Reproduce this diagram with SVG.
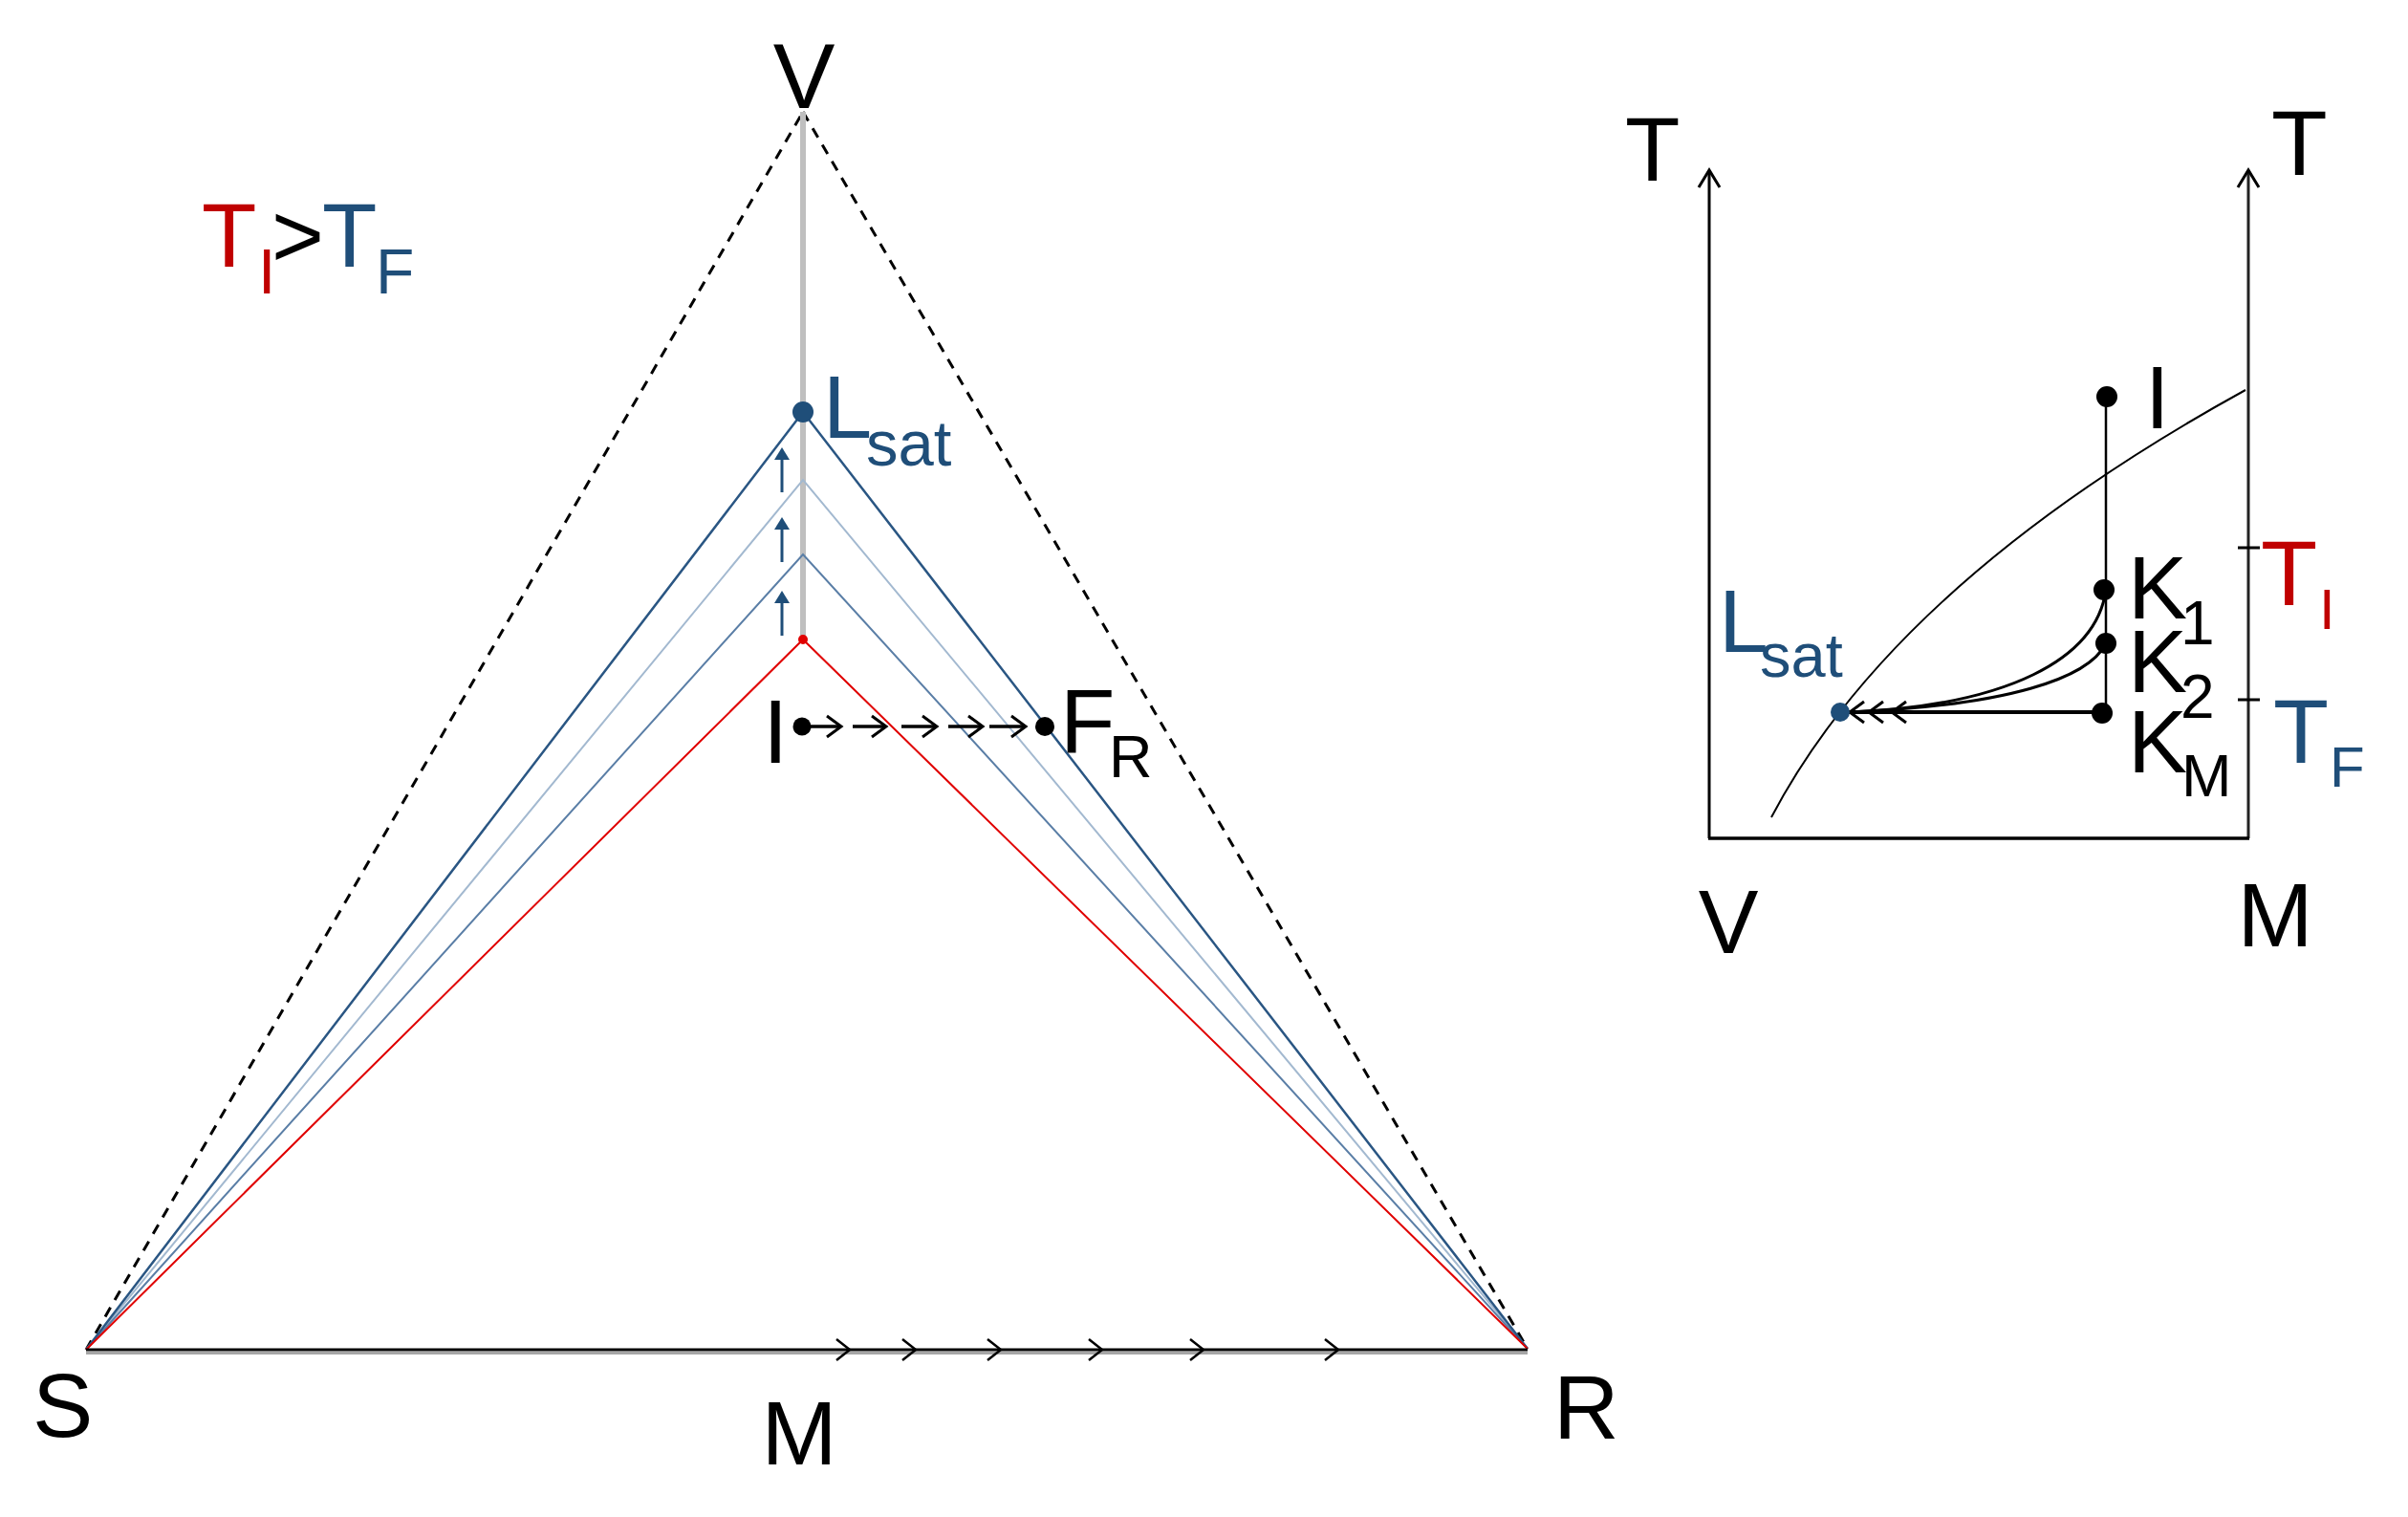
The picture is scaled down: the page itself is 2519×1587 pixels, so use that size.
<svg xmlns="http://www.w3.org/2000/svg" width="2519" height="1587" viewBox="0 0 2519 1587">
<style>
text{font-family:"Liberation Sans",Arial,sans-serif;fill:#000}
.red{fill:#C00000}
.blue{fill:#1F4E79}
.dash{stroke:#000;stroke-width:3;stroke-dasharray:11 9;fill:none}
.ln{stroke:#000;fill:none;stroke-linecap:round}
.chev{stroke:#000;stroke-width:2.5;fill:none;stroke-linejoin:miter}
</style>
<defs>
<path id="bchev" d="M-14,-11 L0,0 L-14,11" class="chev"/>
<path id="ichev" d="M-15,-11 L0,0 L-15,11" stroke="#000" stroke-width="3" fill="none"/>
<path id="uparrow" d="M0,0 L0,-36" stroke="#1F4E79" stroke-width="3"/>
<path id="uphead" d="M-8,-34 L0,-47 L8,-34 Z" fill="#1F4E79"/>
<path id="lchev" d="M15,-11 L0,0 L15,11" stroke="#000" stroke-width="3" fill="none"/>
<path id="axhead" d="M-11,18 L0,0 L11,18" stroke="#000" stroke-width="3" fill="none"/>
</defs>

<g id="connectors">
  <!-- main triangle -->
  <line x1="90" y1="1412" x2="840" y2="117" class="dash"/>
  <line x1="840" y1="117" x2="1598" y2="1411" class="dash"/>
  <line x1="840" y1="117" x2="840" y2="669" stroke="#BFBFBF" stroke-width="6"/>
  <polyline points="90,1412 840,502 1598,1411" stroke="#A3B9D0" stroke-width="2" fill="none"/>
  <polyline points="90,1412 840,580 1598,1411" stroke="#5A7EA6" stroke-width="2" fill="none"/>
  <polyline points="90,1412 840,431 1598,1411" stroke="#2A5683" stroke-width="2.5" fill="none"/>
  <polyline points="90,1412 840,669 1598,1411" stroke="#E00000" stroke-width="2" fill="none"/>
  <line x1="90" y1="1415.5" x2="1598" y2="1415.5" stroke="#A6A6A6" stroke-width="3"/>
  <line x1="90" y1="1412" x2="1598" y2="1412" stroke="#000" stroke-width="3"/>
  <g id="base-arrows">
    <use href="#bchev" x="889" y="1412"/>
    <use href="#bchev" x="958" y="1412"/>
    <use href="#bchev" x="1047" y="1412"/>
    <use href="#bchev" x="1153" y="1412"/>
    <use href="#bchev" x="1259" y="1412"/>
    <use href="#bchev" x="1400" y="1412"/>
  </g>
  <g id="up-arrows">
    <use href="#uparrow" x="818" y="515"/><use href="#uphead" x="818" y="515"/>
    <use href="#uparrow" x="818" y="588"/><use href="#uphead" x="818" y="588"/>
    <use href="#uparrow" x="818" y="665"/><use href="#uphead" x="818" y="665"/>
  </g>
  <g id="I-to-FR">
    <line x1="839" y1="760" x2="879" y2="760" stroke="#000" stroke-width="3.5"/>
    <use href="#ichev" x="880" y="760"/>
    <line x1="892" y1="760" x2="926" y2="760" stroke="#000" stroke-width="3.5"/>
    <use href="#ichev" x="927" y="760"/>
    <line x1="943" y1="760" x2="979" y2="760" stroke="#000" stroke-width="3.5"/>
    <use href="#ichev" x="980" y="760"/>
    <line x1="992" y1="760" x2="1027" y2="760" stroke="#000" stroke-width="3.5"/>
    <use href="#ichev" x="1028" y="760"/>
    <line x1="1035" y1="760" x2="1072" y2="760" stroke="#000" stroke-width="3.5"/>
    <use href="#ichev" x="1073" y="760"/>
  </g>

  <!-- right panel -->
  <line x1="1788" y1="877" x2="1788" y2="179" stroke="#000" stroke-width="3"/>
  <use href="#axhead" x="1788" y="178"/>
  <line x1="2352" y1="877" x2="2352" y2="179" stroke="#222" stroke-width="3"/>
  <use href="#axhead" x="2352" y="178"/>
  <line x1="1787" y1="877" x2="2353" y2="877" stroke="#000" stroke-width="3.5"/>
  <line x1="2341" y1="573" x2="2364" y2="573" stroke="#000" stroke-width="3"/>
  <line x1="2341" y1="732" x2="2364" y2="732" stroke="#000" stroke-width="3"/>
  <path d="M1853,855 C1953,665 2149,518 2349,408" stroke="#000" stroke-width="2" fill="none"/>
  <line x1="2203" y1="415" x2="2203" y2="745" stroke="#000" stroke-width="2.5"/>
  <line x1="2203" y1="745" x2="1930" y2="745" stroke="#000" stroke-width="4"/>
  <path d="M2203,617 C2193,690 2100,738 1935,745" stroke="#000" stroke-width="3" fill="none"/>
  <path d="M2203,673 C2185,710 2100,738 1935,745" stroke="#000" stroke-width="3" fill="none"/>
  <use href="#lchev" x="1935" y="745"/>
  <use href="#lchev" x="1955" y="745"/>
  <use href="#lchev" x="1979" y="745"/>
</g>

<g id="node-V"><text x="841" y="113" font-size="97" text-anchor="middle">V</text></g>
<g id="node-S"><text x="34" y="1503" font-size="95">S</text></g>
<g id="node-R"><text x="1625" y="1505" font-size="95">R</text></g>
<g id="node-M"><text x="836" y="1532" font-size="95" text-anchor="middle">M</text></g>

<g id="node-TI-TF">
  <text font-size="94"><tspan x="211" y="279" class="red">T</tspan><tspan x="270" y="307" font-size="66" class="red">I</tspan><tspan x="284" y="279">&gt;</tspan><tspan x="337" y="279" class="blue">T</tspan><tspan x="393" y="307" font-size="66" class="blue">F</tspan></text>
</g>

<g id="node-Lsat">
  <circle cx="840" cy="431" r="11" fill="#1F4E79"/>
  <text x="861" y="458" font-size="92" class="blue">L</text>
  <text x="906" y="487" font-size="67" class="blue">sat</text>
</g>
<g id="node-redapex"><circle cx="840" cy="669" r="5" fill="#E00000"/></g>

<g id="node-I">
  <circle cx="839" cy="760" r="9.5" fill="#000"/>
  <text x="798" y="798" font-size="95">I</text>
</g>
<g id="node-FR">
  <circle cx="1093" cy="760" r="10" fill="#000"/>
  <text x="1109" y="787" font-size="94">F</text>
  <text x="1160" y="813" font-size="63">R</text>
</g>

<!-- right panel nodes -->
<g id="node-T-left"><text x="1700" y="189" font-size="94">T</text></g>
<g id="node-T-right"><text x="2376" y="183" font-size="96">T</text></g>
<g id="node-I2">
  <circle cx="2204" cy="415" r="11" fill="#000"/>
  <text x="2244" y="448" font-size="92">I</text>
</g>
<g id="node-K1">
  <circle cx="2201" cy="617" r="11" fill="#000"/>
  <text x="2226" y="647" font-size="93">K</text>
  <text x="2281" y="674" font-size="64">1</text>
</g>
<g id="node-K2">
  <circle cx="2203" cy="673" r="11" fill="#000"/>
  <text x="2226" y="724" font-size="93">K</text>
  <text x="2281" y="751" font-size="64">2</text>
</g>
<g id="node-KM">
  <circle cx="2199" cy="746" r="11" fill="#000"/>
  <text x="2226" y="808" font-size="93">K</text>
  <text x="2282" y="833" font-size="63">M</text>
</g>
<g id="node-Lsat2">
  <circle cx="1925" cy="745" r="10" fill="#1F4E79"/>
  <text x="1798" y="682" font-size="93" class="blue">L</text>
  <text x="1841" y="708" font-size="65" class="blue">sat</text>
</g>
<g id="node-TI2">
  <text x="2365" y="633" font-size="97" class="red">T</text>
  <text x="2426" y="658" font-size="60" class="red">I</text>
</g>
<g id="node-TF2">
  <text x="2378" y="798" font-size="95" class="blue">T</text>
  <text x="2437" y="823" font-size="60" class="blue">F</text>
</g>
<g id="node-V2"><text x="1808" y="997" font-size="94" text-anchor="middle">V</text></g>
<g id="node-M2"><text x="2380" y="990" font-size="95" text-anchor="middle">M</text></g>
</svg>
